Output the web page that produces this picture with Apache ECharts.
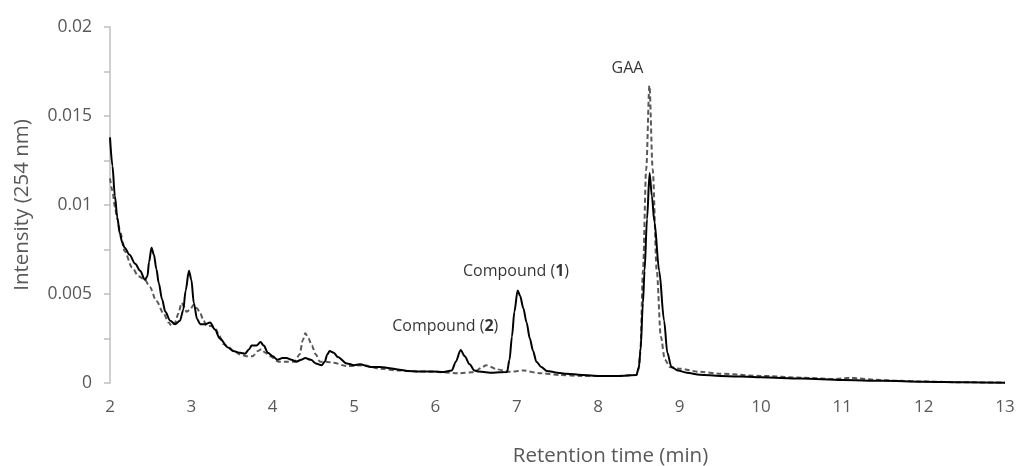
<!DOCTYPE html>
<html>
<head>
<meta charset="utf-8">
<script src="https://cdn.jsdelivr.net/npm/echarts@6/dist/echarts.min.js"></script>
<style>
html,body{margin:0;padding:0;background:#fff;}
#chart{width:1017px;height:466px;}
</style>
</head>
<body>
<div id="chart"></div>
<script>
// Sample chromatogram (solid line)
var timeSample = [2.00,2.03,2.06,2.09,2.12,2.15,2.18,2.24,2.31,2.37,2.43,2.46,2.48,2.51,2.54,2.57,2.60,2.64,2.68,2.74,2.80,2.86,2.90,2.93,2.97,3.00,3.03,3.07,3.11,3.17,3.23,3.29,3.35,3.45,3.51,3.60,3.66,3.71,3.74,3.80,3.85,3.89,3.94,4.00,4.06,4.12,4.17,4.23,4.29,4.35,4.40,4.47,4.53,4.60,4.64,4.67,4.70,4.75,4.80,4.91,5.00,5.07,5.20,5.32,5.44,5.56,5.65,5.81,5.97,6.10,6.20,6.25,6.31,6.36,6.42,6.48,6.53,6.71,6.88,6.91,6.94,6.97,7.01,7.04,7.08,7.12,7.16,7.20,7.24,7.30,7.37,7.50,7.61,7.80,8.02,8.25,8.47,8.50,8.52,8.55,8.57,8.60,8.632,8.66,8.69,8.75,8.81,8.85,8.90,8.98,9.09,9.25,9.50,10.0,10.5,11.0,11.5,12.0,12.5,13.0];
var intensitySample = [0.0138,0.0122,0.0105,0.0093,0.0084,0.0079,0.0076,0.0072,0.0067,0.0063,0.0058,0.0060,0.0068,0.0076,0.0072,0.0064,0.0056,0.0047,0.0040,0.0035,0.0033,0.0035,0.0041,0.0052,0.0063,0.0058,0.0045,0.0036,0.0033,0.0033,0.0034,0.0030,0.0025,0.0020,0.0018,0.0017,0.00165,0.0019,0.0021,0.0021,0.0023,0.0021,0.0017,0.0015,0.0013,0.0014,0.0014,0.0013,0.0012,0.0013,0.0014,0.0013,0.0011,0.0010,0.0012,0.0016,0.0018,0.0017,0.00146,0.0011,0.0010,0.00105,0.0009,0.0009,0.00083,0.00075,0.00068,0.00064,0.00064,0.00062,0.0007,0.0012,0.00186,0.0015,0.00105,0.0007,0.00064,0.00058,0.00062,0.0013,0.0026,0.0040,0.0052,0.0049,0.0042,0.0034,0.0025,0.0018,0.0012,0.0009,0.00068,0.00058,0.00052,0.00045,0.0004,0.0004,0.00045,0.0009,0.0018,0.0045,0.0063,0.0092,0.0118,0.0105,0.0091,0.0063,0.0035,0.0017,0.0009,0.0007,0.00058,0.00047,0.0004,0.00032,0.00025,0.00017,0.00012,0.00007,0.00004,0.00002];

// Reference / control chromatogram (dashed line)
var timeControl = [2.00,2.03,2.06,2.09,2.12,2.18,2.27,2.35,2.43,2.49,2.57,2.66,2.72,2.76,2.80,2.84,2.88,2.91,2.94,2.98,3.03,3.07,3.11,3.15,3.19,3.24,3.29,3.34,3.39,3.46,3.52,3.60,3.68,3.75,3.82,3.86,3.91,3.97,4.07,4.17,4.27,4.33,4.37,4.40,4.44,4.48,4.53,4.58,4.66,4.74,4.91,5.11,5.32,5.56,5.80,5.97,6.30,6.45,6.50,6.58,6.62,6.68,6.75,6.91,7.08,7.28,7.53,7.80,8.02,8.25,8.47,8.50,8.52,8.55,8.59,8.63,8.67,8.72,8.77,8.82,8.88,9.00,9.25,9.50,10.0,10.5,10.9,11.0,11.1,11.2,11.4,11.7,12.0,12.5,13.0];
var intensityControl = [0.0115,0.0108,0.0099,0.0092,0.0086,0.0074,0.0065,0.0060,0.0058,0.0054,0.0046,0.0039,0.0034,0.0032,0.0034,0.0039,0.0045,0.0043,0.0040,0.0041,0.0044,0.0042,0.0039,0.0035,0.0032,0.0032,0.0031,0.0027,0.0022,0.0020,0.0018,0.0016,0.0015,0.0015,0.0018,0.0019,0.0017,0.0015,0.0012,0.0012,0.0012,0.0016,0.0024,0.0028,0.0025,0.0021,0.0016,0.0012,0.0012,0.00114,0.00095,0.0010,0.0008,0.0007,0.00065,0.00063,0.00055,0.0006,0.0007,0.0009,0.0010,0.0009,0.00077,0.00063,0.0007,0.00055,0.00045,0.0004,0.0004,0.0004,0.00045,0.0008,0.0020,0.0063,0.0120,0.0167,0.0120,0.0063,0.0026,0.0013,0.0009,0.0008,0.00063,0.00052,0.0004,0.0003,0.00022,0.00025,0.0003,0.00025,0.00018,0.00012,0.00008,0.00004,0.00002];

// Peak annotations
var annotationTexts = ['GAA','Compound (1)','Compound (2)'];
var annotationTimes = [8.36,6.99,6.12];
var annotationValues = [0.0177,0.00624,0.00315];

// Axis ticks
var xTicks = [2,3,4,5,6,7,8,9,10,11,12,13];
var yLabelTicks = [0,0.005,0.01,0.015,0.02];

function zip(a,b){ return a.map(function(v,i){ return [v,b[i]]; }); }
function richText(s){
  var m = s.match(/^(.*\()(\d+)(\).*)$/);
  if(!m) return '{a|' + s + '}';
  return '{a|' + m[1] + '}{b|' + m[2] + '}{a|' + m[3] + '}';
}

var FONT = '"Open Sans", "Liberation Sans", sans-serif';
var chart = echarts.init(document.getElementById('chart'), null, {renderer:'canvas'});
chart.setOption({
  animation:false,
  backgroundColor:'#ffffff',
  grid:{left:110,right:12,top:27,bottom:83,containLabel:false,outerBoundsMode:'none'},
  xAxis:{
    type:'value', min:xTicks[0], max:xTicks[xTicks.length-1], interval:1,
    name:'Retention time (min)', nameLocation:'middle', nameGap:63,
    nameTextStyle:{fontFamily:FONT,fontSize:20.5,color:'#595959',padding:[0,0,0,106]},
    axisLine:{show:false}, axisTick:{show:false}, splitLine:{show:false},
    axisLabel:{fontFamily:FONT,fontSize:17,color:'#595959',margin:16}
  },
  yAxis:{
    type:'value', min:0, max:0.02, interval:0.0025,
    name:'Intensity (254 nm)', nameLocation:'middle', nameGap:77,
    nameTextStyle:{fontFamily:FONT,fontSize:20.5,color:'#595959'},
    axisLine:{show:true,lineStyle:{color:'#bfbfbf',width:1.5}},
    axisTick:{show:true,length:6,lineStyle:{color:'#bfbfbf',width:1.5}},
    splitLine:{show:false},
    axisLabel:{fontFamily:FONT,fontSize:17.5,color:'#595959',margin:18,
      formatter:function(v){
        for(var i=0;i<yLabelTicks.length;i++){ if(Math.abs(v-yLabelTicks[i])<1e-9) return String(yLabelTicks[i]); }
        return '';
      }}
  },
  series:[
    {type:'line', name:'control', data:zip(timeControl,intensityControl), showSymbol:false, symbol:'none',
     smooth:0.3, smoothMonotone:'x',
     lineStyle:{color:'#595959',width:2,type:[5,3]}, z:2},
    {type:'line', name:'sample', data:zip(timeSample,intensitySample), showSymbol:false, symbol:'none',
     smooth:0.3, smoothMonotone:'x',
     lineStyle:{color:'#000000',width:2}, z:3},
    {type:'scatter', data:zip(annotationTimes,annotationValues), symbolSize:0,
     itemStyle:{color:'transparent'}, silent:true, z:5,
     label:{show:true, position:'inside',
       formatter:function(p){ return richText(annotationTexts[p.dataIndex]); },
       rich:{a:{fontFamily:FONT,fontSize:16,color:'#000'},b:{fontFamily:FONT,fontSize:16,fontWeight:'bold',color:'#000'}}}}
  ]
});
</script>
</body>
</html>
